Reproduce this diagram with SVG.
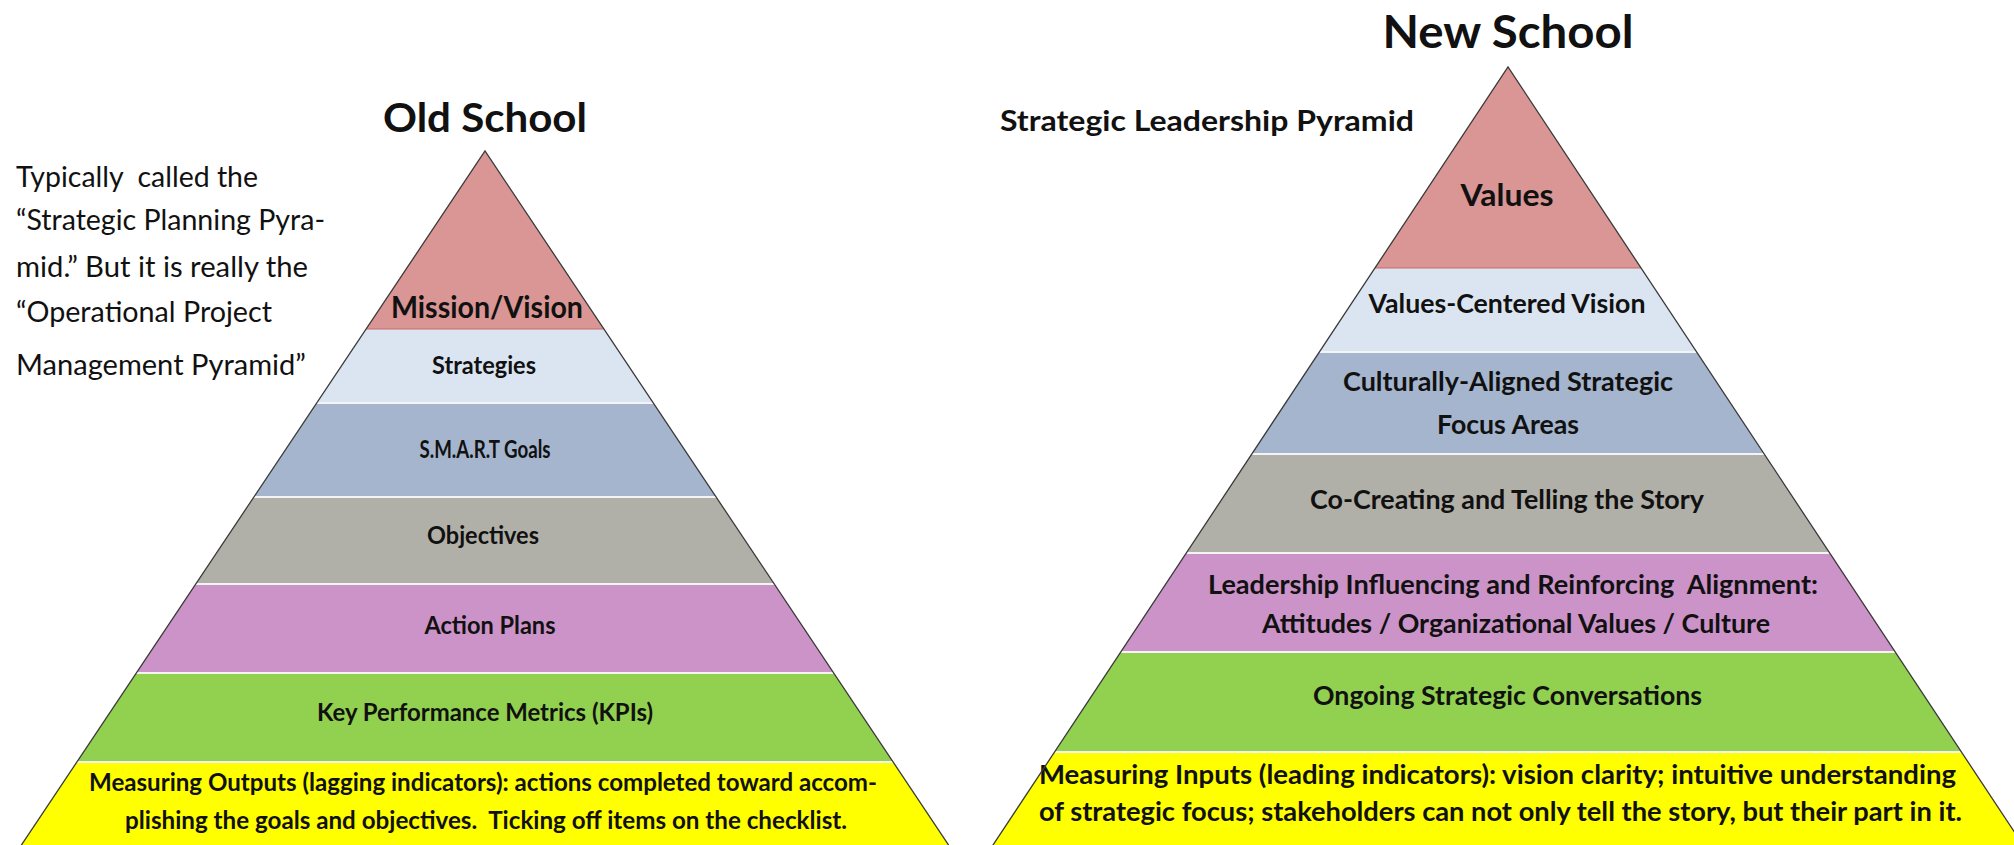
<svg xmlns="http://www.w3.org/2000/svg" width="2014" height="845" viewBox="0 0 2014 845">
<style>
text{font-family:Lato,"Open Sans","Liberation Sans",sans-serif;fill:#111;white-space:pre}
.b{font-weight:bold;text-anchor:middle}
.t{font-weight:bold;text-anchor:middle}
.p{font-weight:normal}
.red{fill:#D99694}
.lblue{fill:#DBE5F1}
.gblue{fill:#A5B5CD}
.gray{fill:#B1B0A8}
.purp{fill:#CC93C9}
.grn{fill:#92D050}
.yel{fill:#FFFF00}
.sep{stroke:#F4F4F4;stroke-width:2;fill:none}
.rsep{stroke:#C96B6A;stroke-width:1.2;fill:none}
.out{fill:none;stroke:#3A3A3A;stroke-width:1.3;stroke-linejoin:miter}
</style>
<rect width="2014" height="845" fill="#FFFFFF"/>

<!-- Titles and side notes -->
<g id="title-old"><text class="t" x="485" y="132" font-size="41" textLength="204" lengthAdjust="spacingAndGlyphs">Old School</text></g>
<g id="title-new"><text class="t" x="1508" y="48" font-size="46" textLength="251" lengthAdjust="spacingAndGlyphs">New School</text></g>
<g id="note-old">
<text class="p" x="16" y="187" font-size="28" textLength="242" lengthAdjust="spacingAndGlyphs">Typically  called the</text>
<text class="p" x="16" y="230" font-size="28" textLength="309" lengthAdjust="spacingAndGlyphs">“Strategic Planning Pyra-</text>
<text class="p" x="16" y="277" font-size="28" textLength="292" lengthAdjust="spacingAndGlyphs">mid.” But it is really the</text>
<text class="p" x="16" y="322" font-size="28" textLength="256" lengthAdjust="spacingAndGlyphs">“Operational Project</text>
<text class="p" x="16" y="375" font-size="28" textLength="290" lengthAdjust="spacingAndGlyphs">Management Pyramid”</text>
</g>
<g id="note-new"><text x="1000" y="131" font-size="28" font-weight="bold" textLength="414" lengthAdjust="spacingAndGlyphs">Strategic Leadership Pyramid</text></g>

<!-- Old School pyramid -->
<g id="old-mission"><polygon class="red" points="485,151 603.9,329 366.1,329"/>
<text class="b" x="487" y="318" font-size="30" textLength="192" lengthAdjust="spacingAndGlyphs">Mission/Vision</text></g>
<g id="old-strategies"><polygon class="lblue" points="366.1,329 603.9,329 653.3,403 316.7,403"/>
<text class="b" x="484" y="374" font-size="25" textLength="104" lengthAdjust="spacingAndGlyphs">Strategies</text></g>
<g id="old-smart"><polygon class="gblue" points="316.7,403 653.3,403 716.1,497 253.9,497"/>
<text class="b" x="485" y="458" font-size="25" textLength="131" lengthAdjust="spacingAndGlyphs">S.M.A.R.T Goals</text></g>
<g id="old-objectives"><polygon class="gray" points="253.9,497 716.1,497 774.2,584 195.8,584"/>
<text class="b" x="483" y="544" font-size="25" textLength="112" lengthAdjust="spacingAndGlyphs">Objectives</text></g>
<g id="old-actionplans"><polygon class="purp" points="195.8,584 774.2,584 833.7,673 136.3,673"/>
<text class="b" x="490" y="634" font-size="25" textLength="131" lengthAdjust="spacingAndGlyphs">Action Plans</text></g>
<g id="old-kpi"><polygon class="grn" points="136.3,673 833.7,673 893.1,762 76.9,762"/>
<text class="b" x="485" y="721" font-size="25" textLength="336" lengthAdjust="spacingAndGlyphs">Key Performance Metrics (KPIs)</text></g>
<g id="old-outputs"><polygon class="yel" points="76.9,762 893.1,762 951.9,850 18.1,850"/>
<text class="b" x="483" y="791" font-size="25" textLength="788" lengthAdjust="spacingAndGlyphs">Measuring Outputs (lagging indicators): actions completed toward accom-</text>
<text class="b" x="486" y="829" font-size="25" textLength="722" lengthAdjust="spacingAndGlyphs">plishing the goals and objectives.  Ticking off items on the checklist.</text></g>
<g id="old-lines">
<line class="rsep" x1="366.1" y1="329" x2="603.9" y2="329"/>
<line class="sep" x1="316.7" y1="403" x2="653.3" y2="403"/>
<line class="sep" x1="253.9" y1="497" x2="716.1" y2="497"/>
<line class="sep" x1="195.8" y1="584" x2="774.2" y2="584"/>
<line class="sep" x1="136.3" y1="673" x2="833.7" y2="673"/>
<line class="sep" x1="76.9" y1="762" x2="893.1" y2="762"/>
<polyline class="out" points="18.1,850 485,151 951.9,850"/>
</g>

<!-- New School pyramid -->
<g id="new-values"><polygon class="red" points="1508,67 1641.1,268 1374.9,268"/>
<text class="b" x="1507" y="206" font-size="31" textLength="93" lengthAdjust="spacingAndGlyphs">Values</text></g>
<g id="new-vision"><polygon class="lblue" points="1374.9,268 1641.1,268 1696.7,352 1319.3,352"/>
<text class="b" x="1507" y="313" font-size="27" textLength="277" lengthAdjust="spacingAndGlyphs">Values-Centered Vision</text></g>
<g id="new-focus"><polygon class="gblue" points="1319.3,352 1696.7,352 1764.2,454 1251.8,454"/>
<text class="b" x="1508" y="391" font-size="27" textLength="330" lengthAdjust="spacingAndGlyphs">Culturally-Aligned Strategic</text>
<text class="b" x="1508" y="434" font-size="27" textLength="142" lengthAdjust="spacingAndGlyphs">Focus Areas</text></g>
<g id="new-story"><polygon class="gray" points="1251.8,454 1764.2,454 1829.7,553 1186.3,553"/>
<text class="b" x="1507" y="509" font-size="27" textLength="394" lengthAdjust="spacingAndGlyphs">Co-Creating and Telling the Story</text></g>
<g id="new-influence"><polygon class="purp" points="1186.3,553 1829.7,553 1895.3,652 1120.7,652"/>
<text class="b" x="1513" y="594" font-size="27" textLength="610" lengthAdjust="spacingAndGlyphs">Leadership Influencing and Reinforcing  Alignment:</text>
<text class="b" x="1516" y="633" font-size="27" textLength="508" lengthAdjust="spacingAndGlyphs">Attitudes / Organizational Values / Culture</text></g>
<g id="new-conversations"><polygon class="grn" points="1120.7,652 1895.3,652 1961.5,752 1054.5,752"/>
<text class="b" x="1507.5" y="705" font-size="27" textLength="389" lengthAdjust="spacingAndGlyphs">Ongoing Strategic Conversations</text></g>
<g id="new-inputs"><polygon class="yel" points="1054.5,752 1961.5,752 2026.3,850 989.7,850"/>
<text class="b" x="1497.5" y="784" font-size="27" textLength="917" lengthAdjust="spacingAndGlyphs">Measuring Inputs (leading indicators): vision clarity; intuitive understanding</text>
<text class="b" x="1500.5" y="821" font-size="27" textLength="923" lengthAdjust="spacingAndGlyphs">of strategic focus; stakeholders can not only tell the story, but their part in it.</text></g>
<g id="new-lines">
<line class="rsep" x1="1374.9" y1="268" x2="1641.1" y2="268"/>
<line class="sep" x1="1319.3" y1="352" x2="1696.7" y2="352"/>
<line class="sep" x1="1251.8" y1="454" x2="1764.2" y2="454"/>
<line class="sep" x1="1186.3" y1="553" x2="1829.7" y2="553"/>
<line class="sep" x1="1120.7" y1="652" x2="1895.3" y2="652"/>
<line class="sep" x1="1054.5" y1="752" x2="1961.5" y2="752"/>
<polyline class="out" points="989.7,850 1508,67 2026.3,850"/>
</g>
<g id="connectors"></g>
</svg>
